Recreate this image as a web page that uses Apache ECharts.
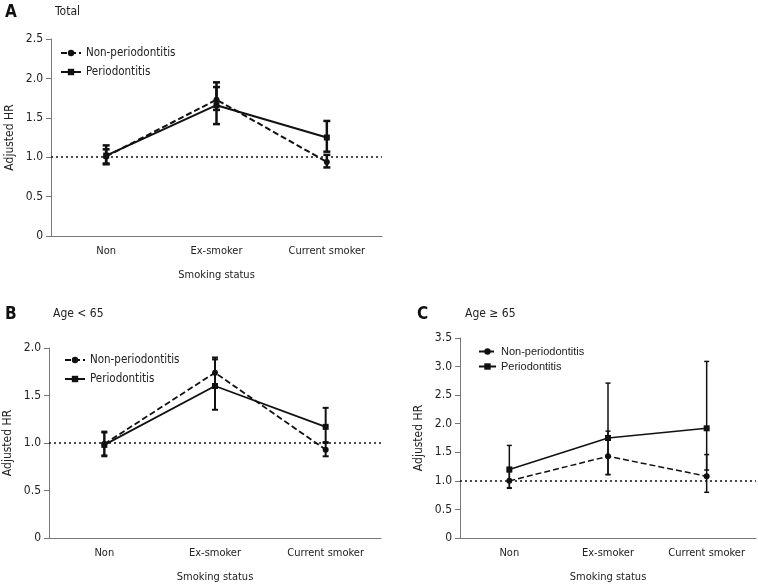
<!DOCTYPE html>
<html><head><meta charset="utf-8">
<script src="https://cdn.jsdelivr.net/npm/echarts@6/dist/echarts.min.js"></script>
<style>html,body{margin:0;padding:0;background:#fff}#c{width:758px;height:584px}</style>
</head><body><div id="c"></div>
<script>
const categories = ['Non', 'Ex-smoker', 'Current smoker'];
const seriesNames = ['Non-periodontitis', 'Periodontitis'];
// Panel A: Total
const aNonHR = [1.01, 1.73, 0.94];
const aNonLow = [0.92, 1.60, 0.87];
const aNonHigh = [1.10, 1.89, 1.03];
const aPerHR = [1.02, 1.66, 1.25];
const aPerLow = [0.91, 1.42, 1.07];
const aPerHigh = [1.15, 1.95, 1.46];
// Panel B: Age < 65
const bNonHR = [0.99, 1.74, 0.93];
const bNonLow = [0.87, 1.59, 0.86];
const bNonHigh = [1.11, 1.90, 1.01];
const bPerHR = [0.98, 1.60, 1.17];
const bPerLow = [0.86, 1.35, 1.00];
const bPerHigh = [1.12, 1.88, 1.37];
// Panel C: Age >= 65
const cNonHR = [1.00, 1.43, 1.08];
const cNonLow = [0.87, 1.11, 0.80];
const cNonHigh = [1.16, 1.87, 1.46];
const cPerHR = [1.20, 1.75, 1.92];
const cPerLow = [0.88, 1.11, 1.19];
const cPerHigh = [1.62, 2.71, 3.09];
const yMaxA = 2.5, yMaxB = 2.0, yMaxC = 3.5;

const FONT = '"DejaVu Sans Condensed", "Liberation Sans", sans-serif';
const TXT = '#222';
const AX = '#777';

function errData(lo, hi) { return lo.map((l, i) => [i, l, hi[i]]); }
function errSeries(idx, lo, hi, lw, cap) {
  return {
    type: 'custom', xAxisIndex: idx, yAxisIndex: idx, silent: true, z: 3,
    data: errData(lo, hi),
    renderItem: function (params, api) {
      const x = api.value(0);
      const top = api.coord([x, api.value(2)]);
      const bot = api.coord([x, api.value(1)]);
      const st = { stroke: '#111', lineWidth: lw };
      return { type: 'group', children: [
        { type: 'line', shape: { x1: top[0], y1: top[1], x2: bot[0], y2: bot[1] }, style: st },
        { type: 'line', shape: { x1: top[0] - cap, y1: top[1], x2: top[0] + cap, y2: top[1] }, style: st },
        { type: 'line', shape: { x1: bot[0] - cap, y1: bot[1], x2: bot[0] + cap, y2: bot[1] }, style: st }
      ]};
    }
  };
}
function lineSeries(idx, nameIdx, panel, vals, dashed, lw, sym, ref) {
  const s = {
    name: seriesNames[nameIdx] + '|' + panel, type: 'line', xAxisIndex: idx, yAxisIndex: idx,
    data: vals, symbol: sym, symbolSize: 6, z: 4,
    lineStyle: { color: '#111', width: lw, type: dashed ? [6, 3] : 'solid' },
    itemStyle: { color: '#111' }
  };
  if (ref) {
    s.markLine = { silent: true, symbol: 'none', label: { show: false },
      lineStyle: { color: '#111', type: [2, 3], width: 1.5 }, data: [{ yAxis: 1 }] };
  }
  return s;
}
function xAx(idx) {
  return { type: 'category', gridIndex: idx, data: categories, boundaryGap: true,
    axisLine: { lineStyle: { color: AX, width: 1 } },
    axisTick: { alignWithLabel: true, length: 5, lineStyle: { color: AX } },
    axisLabel: { color: TXT, fontFamily: FONT, fontSize: 11, margin: 10, interval: 0 },
    name: 'Smoking status', nameLocation: 'middle', nameGap: 34,
    nameTextStyle: { color: TXT, fontFamily: FONT, fontSize: 11 } };
}
function yAx(idx, max, gap) {
  return { type: 'value', gridIndex: idx, min: 0, max: max, interval: 0.5,
    axisLine: { show: true, lineStyle: { color: AX, width: 1 } },
    axisTick: { show: true, length: 5, lineStyle: { color: AX } },
    splitLine: { show: false },
    axisLabel: { color: TXT, fontFamily: FONT, fontSize: 12, margin: 8,
      formatter: v => v === 0 ? '0' : v.toFixed(1) },
    name: 'Adjusted HR', nameLocation: 'middle', nameGap: gap,
    nameTextStyle: { color: TXT, fontFamily: FONT, fontSize: 12 } };
}
function legend(left, top, gap, fam, size, w) {
  return { orient: 'vertical', left: left, top: top, itemWidth: w, itemHeight: 8, itemGap: gap,
    formatter: n => n.split('|')[0],
    textStyle: { color: TXT, fontFamily: fam, fontSize: size } };
}
const lgA = legend(55, 42, 7, FONT, 11.5, 20); lgA.data = [seriesNames[0] + '|A', seriesNames[1] + '|A'];
const lgB = legend(59, 349, 7, FONT, 11.5, 20); lgB.data = [seriesNames[0] + '|B', seriesNames[1] + '|B'];
const lgC = legend(473, 341, 4, '"Liberation Sans", Arial, sans-serif', 11, 17); lgC.data = [seriesNames[0] + '|C', seriesNames[1] + '|C'];

const chart = echarts.init(document.getElementById('c'));
chart.setOption({
  animation: false,
  backgroundColor: '#fff',
  title: [
    { text: 'A', left: 0, top: -1, textStyle: { fontFamily: FONT, fontSize: 17, fontWeight: 'bold', color: '#111' } },
    { text: 'Total', left: 50, top: 1, textStyle: { fontFamily: FONT, fontSize: 12, fontWeight: 'normal', color: TXT } },
    { text: 'B', left: 0, top: 301, textStyle: { fontFamily: FONT, fontSize: 17, fontWeight: 'bold', color: '#111' } },
    { text: 'Age < 65', left: 48, top: 303, textStyle: { fontFamily: FONT, fontSize: 12, fontWeight: 'normal', color: TXT } },
    { text: 'C', left: 412, top: 301, textStyle: { fontFamily: FONT, fontSize: 17, fontWeight: 'bold', color: '#111' } },
    { text: 'Age \u2265 65', left: 460, top: 303, textStyle: { fontFamily: FONT, fontSize: 12, fontWeight: 'normal', color: TXT } }
  ],
  legend: [lgA, lgB, lgC],
  grid: [
    { left: 51, right: 376, top: 39, bottom: 348 },
    { left: 49, right: 377, top: 348, bottom: 45 },
    { left: 460, right: 2, top: 338, bottom: 44 }
  ],
  xAxis: [xAx(0), xAx(1), xAx(2)],
  yAxis: [yAx(0, yMaxA, 35), yAx(1, yMaxB, 35), yAx(2, yMaxC, 35)],
  series: [
    errSeries(0, aNonLow, aNonHigh, 2.5, 3.5),
    errSeries(0, aPerLow, aPerHigh, 2.5, 3.5),
    lineSeries(0, 0, 'A', aNonHR, true, 2, 'circle', true),
    lineSeries(0, 1, 'A', aPerHR, false, 2, 'rect', false),
    errSeries(1, bNonLow, bNonHigh, 2, 3),
    errSeries(1, bPerLow, bPerHigh, 2, 3),
    lineSeries(1, 0, 'B', bNonHR, true, 1.8, 'circle', true),
    lineSeries(1, 1, 'B', bPerHR, false, 1.8, 'rect', false),
    errSeries(2, cNonLow, cNonHigh, 1.5, 2.5),
    errSeries(2, cPerLow, cPerHigh, 1.5, 2.5),
    lineSeries(2, 0, 'C', cNonHR, true, 1.5, 'circle', true),
    lineSeries(2, 1, 'C', cPerHR, false, 1.5, 'rect', false)
  ]
});
</script></body></html>
